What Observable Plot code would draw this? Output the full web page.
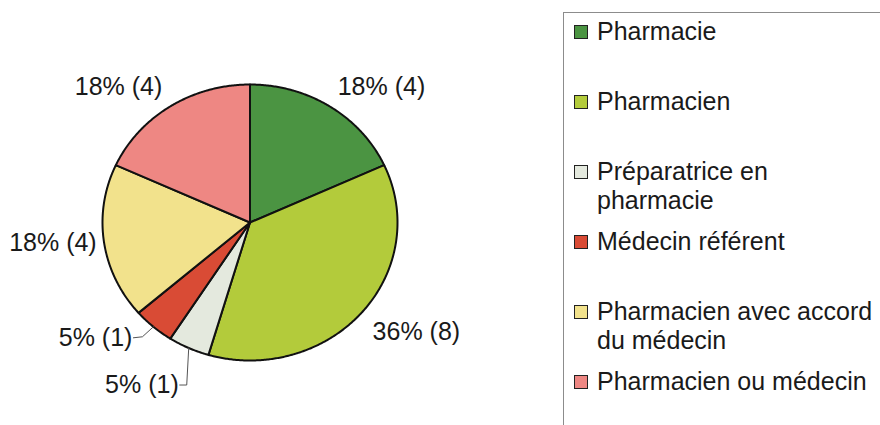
<!DOCTYPE html>
<html>
<head>
<meta charset="utf-8">
<script src="https://cdn.jsdelivr.net/npm/d3@7"></script>
<script src="https://cdn.jsdelivr.net/npm/@observablehq/plot@0.6"></script>
<style>
  html, body { margin: 0; padding: 0; background: #fff; overflow: hidden; }
  #wrap { position: relative; width: 880px; height: 425px; }
  #legend { position: absolute; left: 563px; top: 12px; width: 340px; height: 440px;
            border: 1px solid #8c8c8c; box-sizing: border-box;
            font-family: "Liberation Sans", Arial, sans-serif; font-size: 25px; color: #1a1a1a; }
  .item { position: absolute; left: 0; }
  .sw { position: absolute; left: 10px; top: 8px; width: 12px; height: 12px; border: 1px solid #222; }
  .tx { position: absolute; left: 33px; top: 0; width: 284px; line-height: 29px; }
</style>
</head>
<body>
<div id="wrap"><div id="legend"></div></div>
<script>
// ---- data ----
const categories = ["Pharmacie", "Pharmacien", "Préparatrice en pharmacie", "Médecin référent", "Pharmacien avec accord du médecin", "Pharmacien ou médecin"];
const counts = [4, 8, 1, 1, 4, 4];
const colors = ["#4b9442", "#b3cb3b", "#e4e9de", "#d94b35", "#f2e28c", "#ee8783"];

// ---- layout ----
const W = 880, H = 425;
const mL = 102, mR = 483, mT = 84, mB = 65;
const rx = (W - mL - mR) / 2, ry = (H - mT - mB) / 2;
const font = '"Liberation Sans", Arial, sans-serif';
// callout offsets (pixels from slice edge point) for small slices
const callouts = {
  "Préparatrice en pharmacie": {elbow: [-2, 37], end: [-9, 37]},
  "Médecin référent": {elbow: [-11, 10], end: [-20, 11]}
};

const total = d3.sum(counts);
let acc = 0;
const slices = categories.map((c, i) => {
  const a0 = acc / total * 2 * Math.PI;
  acc += counts[i];
  const a1 = acc / total * 2 * Math.PI;
  return {category: c, value: counts[i], a0, a1, mid: (a0 + a1) / 2,
          label: Math.round(counts[i] / total * 100) + "% (" + counts[i] + ")"};
});

// polygon points of each slice (angle clockwise from 12 o'clock)
const poly = [];
for (const s of slices) {
  poly.push({category: s.category, x: 0, y: 0});
  const n = Math.max(2, Math.ceil((s.a1 - s.a0) / (Math.PI / 360)));
  for (let k = 0; k <= n; k++) {
    const a = s.a0 + (s.a1 - s.a0) * k / n;
    poly.push({category: s.category, x: Math.sin(a), y: Math.cos(a)});
  }
  poly.push({category: s.category, x: 0, y: 0});
}

// labels
const labels = [];
const leaders = [];
for (const s of slices) {
  const sx = Math.sin(s.mid), sy = Math.cos(s.mid);
  const co = callouts[s.category];
  if (co) {
    const ex = sx, ey = sy;
    const bx = ex + co.elbow[0] / rx, by = ey - co.elbow[1] / ry;
    const tx = ex + co.end[0] / rx, ty = ey - co.end[1] / ry;
    leaders.push({category: s.category, x: ex, y: ey}, {category: s.category, x: bx, y: by}, {category: s.category, x: tx, y: ty});
    labels.push({text: s.label, x: tx, y: ty, ta: "end", la: "middle", dx: -1});
  } else {
    const r = Math.abs(sy) < 0.3 ? 1.05 : 1.1;
    labels.push({text: s.label, x: r * sx, y: r * sy,
                 ta: sx >= 0 ? "start" : "end",
                 la: sy > 0.3 ? "bottom" : (sy < -0.3 ? "top" : "middle"), dx: 0});
  }
}

const textMarks = Array.from(d3.group(labels, d => d.ta + "|" + d.la + "|" + d.dx), ([k, arr]) =>
  Plot.text(arr, {x: "x", y: "y", text: "text", textAnchor: arr[0].ta, lineAnchor: arr[0].la, dx: arr[0].dx,
                  fontSize: 25, fill: "#1a1a1a", fontFamily: font}));

const chart = Plot.plot({
  width: W, height: H,
  marginLeft: mL, marginRight: mR, marginTop: mT, marginBottom: mB,
  x: {domain: [-1, 1], axis: null},
  y: {domain: [-1, 1], axis: null},
  color: {domain: categories, range: colors},
  style: {fontFamily: font, background: "transparent"},
  marks: [
    Plot.line(poly, {x: "x", y: "y", z: "category", fill: "category", stroke: "#111", strokeWidth: 2, strokeLinejoin: "round", curve: "linear"}),
    Plot.line(leaders, {x: "x", y: "y", z: "category", stroke: "#555", strokeWidth: 1}),
    ...textMarks
  ]
});
document.getElementById("wrap").prepend(chart);

// legend
const leg = d3.select("#legend");
categories.forEach((c, i) => {
  const it = leg.append("div").attr("class", "item").style("top", (4 + 70 * i) + "px");
  it.append("div").attr("class", "sw").style("background", colors[i]);
  it.append("div").attr("class", "tx").text(c);
});
</script>
</body>
</html>
